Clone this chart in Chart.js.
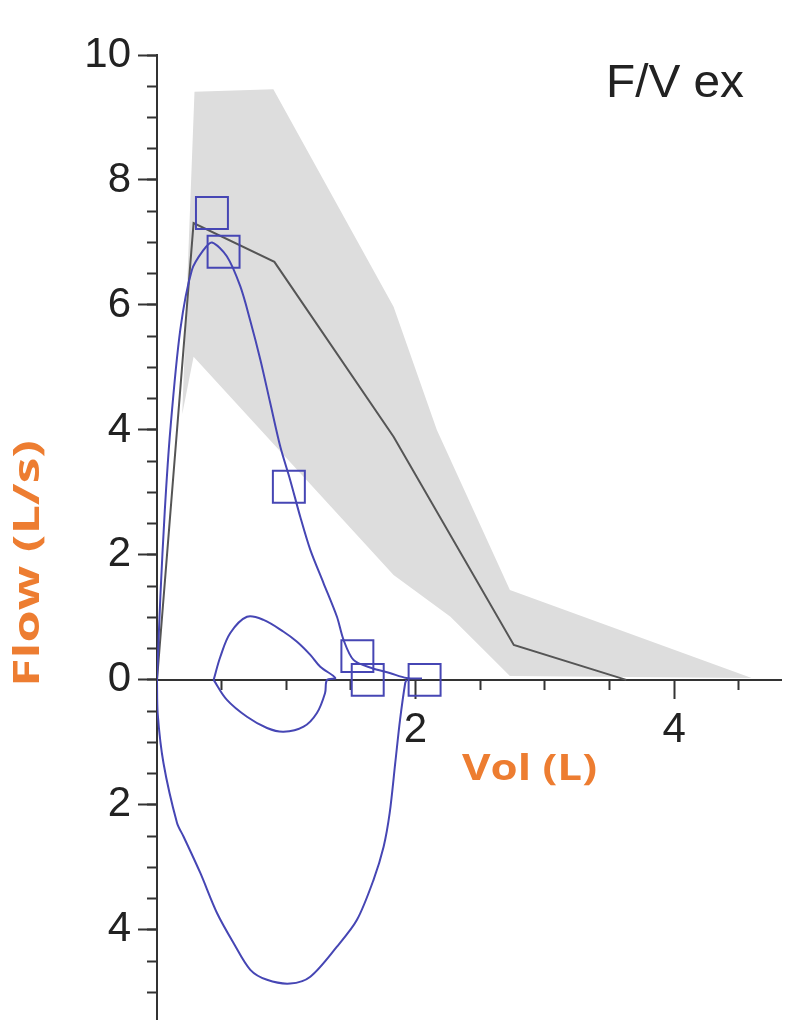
<!DOCTYPE html>
<html><head><meta charset="utf-8">
<script src="https://cdn.jsdelivr.net/npm/chart.js@4.4.1/dist/chart.umd.min.js"></script>
<style>html,body{margin:0;padding:0;background:#fff;overflow:hidden}canvas{display:block}</style>
</head><body>
<canvas id="c" width="806" height="1029"></canvas>
<script>
// ---------- data ----------
const panelLabel = 'F/V ex';
const xTitle = 'Vol (L)';
const yTitle = 'Flow (L/s)';

// predicted range band (closed outline, volume / flow)
const bandVol  = [0.29, 0.90, 1.83, 2.165, 2.73, 4.60, 2.73, 2.27, 1.83, 0.283, 0.195];
const bandFlow = [9.41, 9.45, 5.97, 4.00, 1.44, 0.03, 0.06, 1.01, 1.68, 5.17, 4.25];

// predicted curve
const predVol  = [0, 0.283, 0.908, 1.83, 2.76, 3.63];
const predFlow = [0, 7.31, 6.69, 3.89, 0.56, 0];

// measured expiratory curve
const expVol  = [0, 0.026, 0.06, 0.103, 0.18, 0.27, 0.36, 0.425, 0.54, 0.644, 0.72, 0.80, 0.876, 0.954, 1.03, 1.108, 1.186, 1.288, 1.392, 1.443, 1.52, 1.66, 1.80, 1.93, 2.05];
const expFlow = [0, 1.33, 2.7, 4.0, 5.6, 6.56, 6.88, 7.0, 6.78, 6.3, 5.76, 5.12, 4.43, 3.73, 3.2, 2.61, 2.08, 1.55, 1.01, 0.64, 0.32, 0.19, 0.11, 0.03, 0.02];

// measured inspiratory curve (shown below the axis)
const inspVol  = [1.93, 1.92, 1.88, 1.843, 1.80, 1.753, 1.675, 1.547, 1.392, 1.186, 1.03, 0.851, 0.722, 0.592, 0.464, 0.335, 0.206, 0.155, 0.05, 0.005, 0];
const inspFlow = [0, -0.05, -0.64, -1.33, -2.13, -2.67, -3.2, -3.84, -4.27, -4.75, -4.86, -4.8, -4.64, -4.21, -3.73, -3.09, -2.51, -2.29, -1.33, -0.53, 0];

// tidal loop
const tidalVol  = [0.438, 0.49, 0.567, 0.696, 0.824, 0.979, 1.083, 1.186, 1.263, 1.379, 1.315, 1.30, 1.237, 1.134, 0.979, 0.851, 0.696, 0.541, 0.438];
const tidalFlow = [0, 0.37, 0.75, 1.01, 0.96, 0.77, 0.61, 0.40, 0.21, 0.03, 0, -0.21, -0.53, -0.75, -0.83, -0.77, -0.59, -0.32, 0];

// square markers
const markerVol  = [0.425, 0.515, 1.02, 1.55, 1.63, 2.07];
const markerFlow = [7.47, 6.85, 3.09, 0.38, 0.0, 0.0];

// ticks
const yMajorTicks = [-4, -2, 0, 2, 4, 6, 8, 10];
const yMinorTicks = [-5, -4.5, -4, -3.5, -3, -2.5, -2, -1.5, -1, -0.5, 0, 0.5, 1, 1.5, 2, 2.5, 3, 3.5, 4, 4.5, 5, 5.5, 6, 6.5, 7, 7.5, 8, 8.5, 9, 9.5, 10];
const xMajorTicks = [2, 4];
const xMinorTicks = [0.5, 1, 1.5, 2.5, 3, 3.5, 4.5];
const xRange = [0, 4.83];
const yRange = [-5.44, 10];

// ---------- layout / style ----------
const VIEW_W = 806, VIEW_H = 1029;
const PLOT_TOP = 55, PLOT_BOTTOM = 1020, PLOT_LEFT = 157;
const pts = (xs, ys) => xs.map((x, i) => ({x: x, y: ys[i]}));
const BLUE = '#4646b4';
const AXIS = '#333';
const TICKFONT = {family: "'Liberation Sans', Arial, sans-serif", size: 42};

function setTicks(list) { return s => { s.ticks = list.map(v => ({value: v})); }; }

function drawStretched(ctx, text, cx, base, targetW, font, angle, color) {
  ctx.save();
  ctx.font = font;
  ctx.fillStyle = color;
  const w = ctx.measureText(text).width;
  ctx.translate(cx, base);
  ctx.rotate(angle);
  ctx.scale(targetW / w, 1);
  ctx.textAlign = 'center';
  ctx.textBaseline = 'alphabetic';
  ctx.fillText(text, 0, 0);
  ctx.restore();
}

const textPlugin = {
  id: 'texts',
  afterDraw(chart) {
    const ctx = chart.ctx;
    drawStretched(ctx, panelLabel, 675, 97, 138, "46px 'Liberation Sans', Arial, sans-serif", 0, '#222');
    drawStretched(ctx, xTitle, 529.5, 780, 135, "bold 35px 'Open Sans', sans-serif", 0, '#ED7D31');
    drawStretched(ctx, yTitle, 39, 563.5, 247, "bold 35px 'Open Sans', sans-serif", -Math.PI / 2, '#ED7D31');
  }
};

function makeConfig() {
  return {
    type: 'line',
    data: {
      datasets: [
        {label: 'markers', data: pts(markerVol, markerFlow), showLine: false,
         pointStyle: 'rect', pointRadius: 22.6, pointBorderWidth: 2, pointBorderColor: BLUE,
         pointBackgroundColor: 'rgba(0,0,0,0)', borderColor: BLUE, order: 0},
        {label: 'exp', data: pts(expVol, expFlow), borderColor: BLUE, borderWidth: 2,
         pointRadius: 0, tension: 0.3, fill: false, order: 1},
        {label: 'insp', data: pts(inspVol, inspFlow), borderColor: BLUE, borderWidth: 2,
         pointRadius: 0, tension: 0.3, fill: false, order: 1},
        {label: 'tidal', data: pts(tidalVol, tidalFlow), borderColor: BLUE, borderWidth: 2,
         pointRadius: 0, tension: 0.35, fill: false, order: 1},
        {label: 'pred', data: pts(predVol, predFlow), borderColor: '#555', borderWidth: 2,
         pointRadius: 0, tension: 0, fill: false, order: 2},
        {label: 'band', data: pts(bandVol, bandFlow), borderColor: 'rgba(0,0,0,0)', borderWidth: 0,
         backgroundColor: '#dddddd', pointRadius: 0, tension: 0, fill: 'shape', order: 3}
      ]
    },
    options: {
      responsive: false,
      maintainAspectRatio: false,
      animation: false,
      events: [],
      layout: {padding: {left: 0, right: 24, top: PLOT_TOP, bottom: 9}},
      plugins: {legend: {display: false}, tooltip: {enabled: false}},
      scales: {
        x: {
          type: 'linear', axis: 'x', position: {y: 0}, min: xRange[0], max: xRange[1], z: 1,
          afterBuildTicks: setTicks(xMajorTicks),
          grid: {drawOnChartArea: false, drawTicks: true, tickLength: 18, tickWidth: 2, tickColor: AXIS},
          border: {display: true, color: AXIS, width: 2},
          ticks: {font: TICKFONT, color: '#222', padding: 7, autoSkip: false, maxRotation: 0,
                  callback: v => String(Math.abs(v))}
        },
        xm: {
          type: 'linear', axis: 'x', position: {y: 0}, min: xRange[0], max: xRange[1], z: 1,
          afterBuildTicks: setTicks(xMinorTicks),
          grid: {drawOnChartArea: false, drawTicks: true, tickLength: 10, tickWidth: 2, tickColor: AXIS},
          border: {display: false},
          ticks: {autoSkip: false, maxRotation: 0, callback: () => ''}
        },
        y: {
          type: 'linear', axis: 'y', position: 'left', min: yRange[0], max: yRange[1], z: 1,
          afterBuildTicks: setTicks(yMajorTicks),
          afterFit: s => { s.width = PLOT_LEFT; },
          grid: {drawOnChartArea: false, drawTicks: true, tickLength: 19, tickWidth: 2, tickColor: AXIS},
          border: {display: true, color: AXIS, width: 2},
          ticks: {font: TICKFONT, color: '#222', padding: 7, autoSkip: false,
                  callback: v => String(Math.abs(v))}
        },
        ym: {
          type: 'linear', axis: 'y', position: {x: 0}, min: yRange[0], max: yRange[1], z: 1,
          afterBuildTicks: setTicks(yMinorTicks),
          grid: {drawOnChartArea: false, drawTicks: true, tickLength: 10, tickWidth: 2, tickColor: AXIS},
          border: {display: false},
          ticks: {autoSkip: false, callback: () => ''}
        }
      }
    },
    plugins: [textPlugin]
  };
}

const canvas = document.getElementById('c');
let chart = new Chart(canvas, makeConfig());
// the layout reserves room below the plot for label overhang; grow the canvas
// (the extra strip falls outside the window) so the plot bottom lands where intended
const extra = Math.round(PLOT_BOTTOM - chart.chartArea.bottom);
if (extra !== 0) {
  chart.destroy();
  canvas.width = VIEW_W;
  canvas.height = VIEW_H + extra;
  canvas.style.width = VIEW_W + 'px';
  canvas.style.height = (VIEW_H + extra) + 'px';
  chart = new Chart(canvas, makeConfig());
}
</script>
</body></html>
